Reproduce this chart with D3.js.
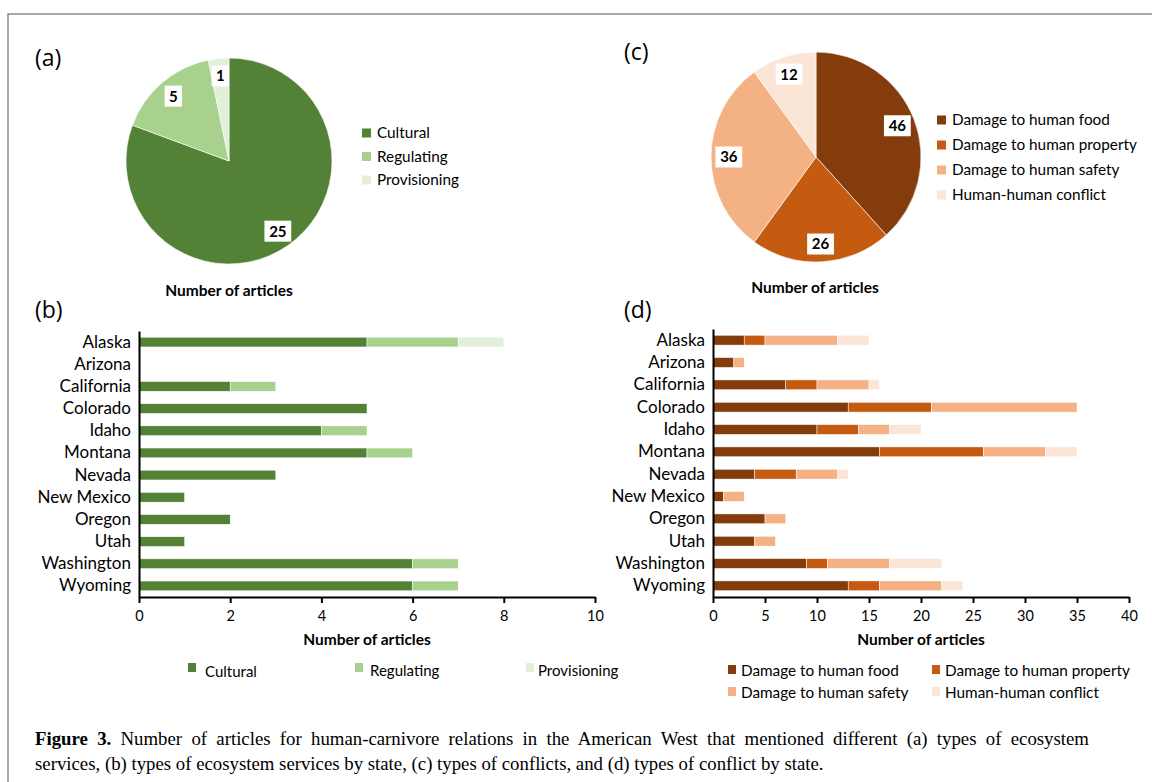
<!DOCTYPE html>
<html>
<head>
<meta charset="utf-8">
<script src="https://cdn.jsdelivr.net/npm/d3@7"></script>
<style>
  body { margin: 0; background: #fff; }
  text { fill: #000; }
  .sans { font-family: Lato, "Open Sans", sans-serif; }
  .serif { font-family: "Liberation Serif", "DejaVu Serif", serif; }
</style>
</head>
<body>
<div id="viz"></div>
<script>
// data
var serviceTypes = ["Cultural", "Regulating", "Provisioning"];
var serviceTotals = [25, 5, 1];
var serviceColors = ["#538135", "#a9d18e", "#e2efd9"];

var conflictTypes = ["Damage to human food", "Damage to human property", "Damage to human safety", "Human-human conflict"];
var conflictTotals = [46, 26, 36, 12];
var conflictColors = ["#843c0c", "#c55a11", "#f4b183", "#fbe5d6"];

var states = ["Alaska", "Arizona", "California", "Colorado", "Idaho", "Montana", "Nevada", "New Mexico", "Oregon", "Utah", "Washington", "Wyoming"];

var cultural     = [5, 0, 2, 5, 4, 5, 3, 1, 2, 1, 6, 6];
var regulating   = [2, 0, 1, 0, 1, 1, 0, 0, 0, 0, 1, 1];
var provisioning = [1, 0, 0, 0, 0, 0, 0, 0, 0, 0, 0, 0];

var food     = [3, 2, 7, 13, 10, 16, 4, 1, 5, 4, 9, 13];
var property = [2, 0, 3, 8, 4, 10, 4, 0, 0, 0, 2, 3];
var safety   = [7, 1, 5, 14, 3, 6, 4, 2, 2, 2, 6, 6];
var human    = [3, 0, 1, 0, 3, 3, 1, 0, 0, 0, 5, 2];

var xTicksB = [0, 2, 4, 6, 8, 10];
var xTicksD = [0, 5, 10, 15, 20, 25, 30, 35, 40];

var svg = d3.select("#viz")
    .append("svg")
    .attr("width", 1152)
    .attr("height", 782);

// frame
svg.append("path")
    .attr("d", "M8,790V14H1160")
    .attr("fill", "none")
    .attr("stroke", "#8c8c8c")
    .attr("stroke-width", 1.5);

function panelLabel(x, y, t){
    svg.append("text").attr("class", "sans").attr("x", x).attr("y", y)
        .style("font-size", "23px").style("font-family", "'Open Sans', sans-serif").text(t);
}

function axisTitle(x, y){
    svg.append("text").attr("class", "sans").attr("x", x).attr("y", y).attr("text-anchor", "middle")
        .style("font-size", "15.5px").style("font-weight", "bold").text("Number of articles");
}

function drawPie(cx, cy, r, values, colors){
    var pie = d3.pie().sort(null).value(function(d){return d;});
    var arc = d3.arc().innerRadius(0).outerRadius(r);
    var lab = d3.arc().innerRadius(r*0.83).outerRadius(r*0.83);
    var g = svg.append("g").attr("transform", "translate(" + cx + "," + cy + ")");
    var arcs = pie(values);
    g.selectAll("path.slice")
        .data(arcs)
        .enter().append("path")
        .attr("d", arc)
        .attr("fill", function(d, i){return colors[i];})
        .attr("stroke", "#fff")
        .attr("stroke-width", 0.6);
    var lg = g.selectAll("g.lab")
        .data(arcs)
        .enter().append("g")
        .attr("transform", function(d){return "translate(" + lab.centroid(d) + ")";});
    lg.append("rect")
        .attr("x", function(d){return -(String(d.data).length*4.7 + 4);})
        .attr("y", -10.5)
        .attr("width", function(d){return String(d.data).length*9.4 + 8;})
        .attr("height", 21)
        .attr("fill", "#fff");
    lg.append("text")
        .attr("class", "sans")
        .attr("text-anchor", "middle")
        .attr("dy", "0.36em")
        .style("font-size", "15px")
        .style("font-weight", "bold")
        .text(function(d){return d.data;});
}

function drawLegendV(x, y, step, names, colors){
    var g = svg.append("g");
    names.forEach(function(n, i){
        g.append("rect").attr("x", x).attr("y", y + i*step - 4.5)
            .attr("width", 9).attr("height", 9).attr("fill", colors[i]);
        g.append("text").attr("class", "sans").attr("x", x + 15).attr("y", y + i*step)
            .attr("dy", "0.35em").style("font-size", "15.3px").text(n);
    });
}

function drawBars(opts){
    var x = d3.scaleLinear().domain([0, opts.max]).range([opts.x0, opts.x1]);
    var y = d3.scaleBand().domain(states).range([opts.y0, opts.y1]).paddingInner(0.56).paddingOuter(0.28);
    var stack = d3.stack().keys(d3.range(opts.series.length))
        .value(function(d, k){return opts.series[k][d];});
    var layers = stack(d3.range(states.length));
    var g = svg.append("g");
    g.selectAll("g.layer")
        .data(layers)
        .enter().append("g")
        .attr("fill", function(d, i){return opts.colors[i];})
        .selectAll("rect")
        .data(function(d){return d;})
        .enter().append("rect")
        .attr("x", function(d){return x(d[0]);})
        .attr("width", function(d){return x(d[1]) - x(d[0]);})
        .attr("y", function(d){return y(states[d.data]);})
        .attr("height", y.bandwidth())
        .attr("stroke", "#fff")
        .attr("stroke-width", 0.5);

    var xa = g.append("g")
        .attr("transform", "translate(0," + opts.y1 + ")")
        .call(d3.axisBottom(x).tickValues(opts.ticks).tickSize(6).tickSizeOuter(0));
    xa.select(".domain").attr("stroke", "#000").attr("stroke-width", 2);
    xa.selectAll(".tick line").attr("stroke", "#000").attr("stroke-width", 2);
    xa.selectAll(".tick text").attr("class", "sans").style("font-size", "14.5px").attr("dy", "1.05em");

    var ya = g.append("g")
        .attr("transform", "translate(" + opts.x0 + ",0)")
        .call(d3.axisLeft(y).tickSize(0).tickPadding(8));
    ya.select(".domain").attr("stroke", "#000").attr("stroke-width", 2);
    ya.selectAll(".tick text").attr("class", "sans").style("font-size", "17px");

    axisTitle((opts.x0 + opts.x1)/2, opts.y1 + 48);
}

// (a)
panelLabel(35, 66, "(a)");
drawPie(229, 161, 103, serviceTotals, serviceColors);
drawLegendV(362, 133, 23.5, serviceTypes, serviceColors);
axisTitle(229, 296);

// (c)
panelLabel(624, 60, "(c)");
drawPie(816, 157, 105, conflictTotals, conflictColors);
drawLegendV(937, 120, 25, conflictTypes, conflictColors);
axisTitle(815, 293);

// (b)
panelLabel(35, 318, "(b)");
drawBars({x0: 139, x1: 595, y0: 331, y1: 597, max: 10, ticks: xTicksB,
    series: [cultural, regulating, provisioning], colors: serviceColors});
[0, 1, 2].forEach(function(i){
    var lx = [188, 355, 526][i];
    svg.append("rect").attr("x", lx).attr("y", 663).attr("width", 8).attr("height", 9).attr("fill", serviceColors[i]);
    svg.append("text").attr("class", "sans").attr("x", lx + [17, 15, 12][i]).attr("y", 672 - (i ? 1 : 0)).attr("dy", "0.35em")
        .style("font-size", "15px").text(serviceTypes[i]);
});

// (d)
panelLabel(624, 318, "(d)");
drawBars({x0: 713, x1: 1129, y0: 329, y1: 597, max: 40, ticks: xTicksD,
    series: [food, property, safety, human], colors: conflictColors});
[0, 1, 2, 3].forEach(function(i){
    var lx = i % 2 ? 932 : 728, ly = i < 2 ? 671 : 693;
    svg.append("rect").attr("x", lx).attr("y", ly - 6).attr("width", 8).attr("height", 9).attr("fill", conflictColors[i]);
    svg.append("text").attr("class", "sans").attr("x", lx + 13).attr("y", ly).attr("dy", "0.35em")
        .style("font-size", "15.3px").text(conflictTypes[i]);
});

// caption (first line is justified in the source, so widen the word gaps)
var l1 = svg.append("text").attr("class", "serif").attr("x", 35).attr("y", 745)
    .style("font-size", "18.8px")
    .style("word-spacing", "4.6px");
l1.append("tspan").style("font-weight", "bold").text("Figure 3.");
l1.append("tspan").text(" Number of articles for human-carnivore relations in the American West that mentioned different (a) types of ecosystem");
svg.append("text").attr("class", "serif").attr("x", 35).attr("y", 770)
    .style("font-size", "18.8px")
    .text("services, (b) types of ecosystem services by state, (c) types of conflicts, and (d) types of conflict by state.");
</script>
</body>
</html>
